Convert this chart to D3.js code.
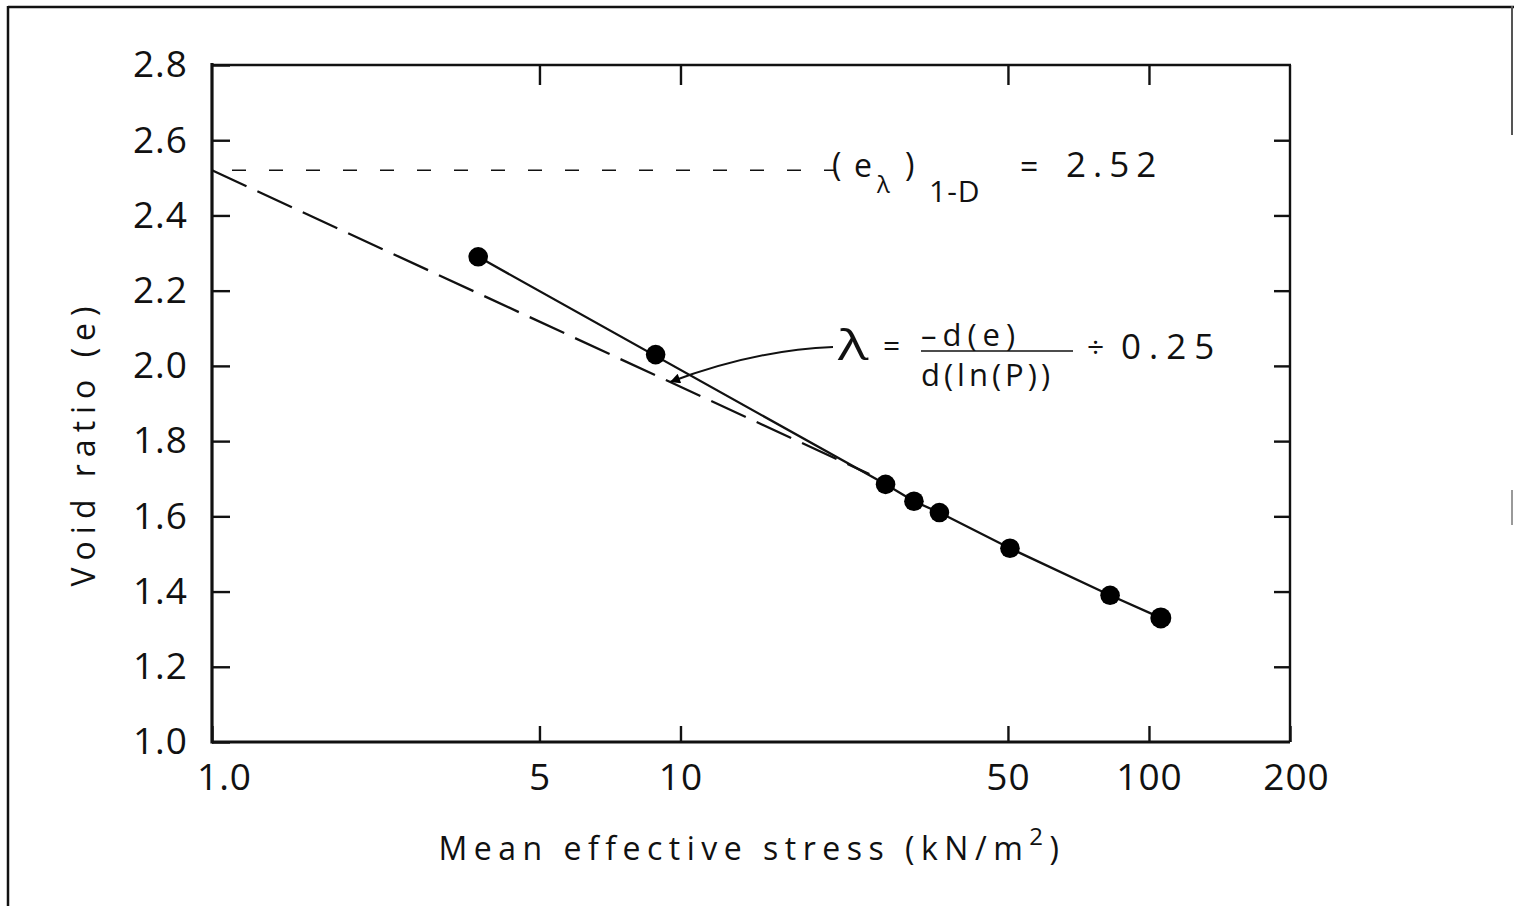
<!DOCTYPE html>
<html>
<head>
<meta charset="utf-8">
<script src="https://cdn.jsdelivr.net/npm/d3@7"></script>
<style>
  html, body { margin: 0; padding: 0; background: #fff; }
  svg { display: block; }
  text { font-family: "Open Sans", "DejaVu Sans", sans-serif; fill: #111; }
</style>
</head>
<body>
<svg id="chart" width="1514" height="906"></svg>
<script>
// Measured consolidation points: mean effective stress (kN/m2) and void ratio
const meanStress = [3.7, 8.85, 27.4, 31.5, 35.7, 50.5, 82.6, 106];
const voidRatio  = [2.29, 2.03, 1.685, 1.64, 1.61, 1.515, 1.39, 1.33];
// points joined by the drawn compression curve
const onCurve    = [true, false, true, true, true, true, true, true];

// 1-D normal consolidation line parameters
const eLambda = 2.52;
const lambda = 0.25;
const nclEndStress = 25.3;
const arrowStress = 9.5;

// Axis ticks
const xTickValues = [1, 5, 10, 50, 100, 200];
const xTickLabels = ["1.0", "5", "10", "50", "100", "200"];
const yTickValues = [1.0, 1.2, 1.4, 1.6, 1.8, 2.0, 2.2, 2.4, 2.6, 2.8];
const yTickLabels = ["1.0", "1.2", "1.4", "1.6", "1.8", "2.0", "2.2", "2.4", "2.6", "2.8"];

const svg = d3.select("#chart");
const plotLeft = 212, plotRight = 1290, plotTop = 65, plotBottom = 742;

const x = d3.scaleLog().domain([1, 200]).range([plotLeft, plotRight]);
const y = d3.scaleLinear().domain([1.0, 2.8]).range([plotBottom, plotTop]);

// Page frame
svg.append("line").attr("x1", 8).attr("x2", 1514).attr("y1", 7).attr("y2", 7)
  .attr("stroke", "#111").attr("stroke-width", 2.5);
svg.append("line").attr("x1", 8).attr("x2", 8).attr("y1", 6).attr("y2", 906)
  .attr("stroke", "#111").attr("stroke-width", 2.5);
svg.append("line").attr("x1", 1512).attr("x2", 1512).attr("y1", 6).attr("y2", 135)
  .attr("stroke", "#555").attr("stroke-width", 2);
svg.append("line").attr("x1", 1512).attr("x2", 1512).attr("y1", 490).attr("y2", 525)
  .attr("stroke", "#777").attr("stroke-width", 1.5);

// Axes
const xLabel = new Map(xTickValues.map((v, i) => [v, xTickLabels[i]]));
const yLabel = new Map(yTickValues.map((v, i) => [v, yTickLabels[i]]));

const gBottom = svg.append("g").attr("transform", `translate(0,${plotBottom})`)
  .call(d3.axisBottom(x).tickValues(xTickValues).tickFormat(d => xLabel.get(d))
    .tickSize(-16).tickSizeOuter(0).tickPadding(22));
gBottom.selectAll("text").filter(d => d === 1).attr("dx", 12);
gBottom.selectAll("text").filter(d => d === 200).attr("dx", 6);

const gTop = svg.append("g").attr("transform", `translate(0,${plotTop})`)
  .call(d3.axisTop(x).tickValues(xTickValues.slice(1, -1)).tickFormat("")
    .tickSize(-20).tickSizeOuter(0));

const gLeft = svg.append("g").attr("transform", `translate(${plotLeft},0)`)
  .call(d3.axisLeft(y).tickValues(yTickValues).tickFormat(d => yLabel.get(d))
    .tickSize(-18).tickSizeOuter(0).tickPadding(24));

const gRight = svg.append("g").attr("transform", `translate(${plotRight},0)`)
  .call(d3.axisRight(y).tickValues(yTickValues.slice(1, -1)).tickFormat("")
    .tickSize(-16).tickSizeOuter(0));

[gBottom, gTop, gLeft, gRight].forEach(g => {
  g.select(".domain").remove();
  g.selectAll(".tick line").attr("stroke", "#111").attr("stroke-width", 2.4);
  g.selectAll(".tick text").attr("font-size", 37).attr("fill", "#111")
    .attr("font-family", "'Open Sans', 'DejaVu Sans', sans-serif")
    .attr("letter-spacing", 1);
});

// Plot frame: heavier left and bottom axes
svg.append("line").attr("x1", plotLeft).attr("x2", plotLeft).attr("y1", plotTop - 2).attr("y2", plotBottom + 1.5)
  .attr("stroke", "#111").attr("stroke-width", 3.2);
svg.append("line").attr("x1", plotLeft).attr("x2", plotRight).attr("y1", plotBottom).attr("y2", plotBottom)
  .attr("stroke", "#111").attr("stroke-width", 3.2);
svg.append("line").attr("x1", plotLeft).attr("x2", plotRight + 1).attr("y1", plotTop).attr("y2", plotTop)
  .attr("stroke", "#111").attr("stroke-width", 2.4);
svg.append("line").attr("x1", plotRight).attr("x2", plotRight).attr("y1", plotTop).attr("y2", plotBottom)
  .attr("stroke", "#111").attr("stroke-width", 2.4);

// Axis titles
const xTitle = svg.append("text").attr("x", 752).attr("y", 860)
  .attr("text-anchor", "middle").attr("font-size", 32).attr("letter-spacing", 6.5);
xTitle.append("tspan").text("Mean effective stress (kN/m");
xTitle.append("tspan").attr("dy", -15).attr("font-size", 24).text("2");
xTitle.append("tspan").attr("dy", 15).text(")");

svg.append("text").attr("transform", "translate(95,443) rotate(-90)")
  .attr("text-anchor", "middle").attr("font-size", 32).attr("letter-spacing", 7)
  .text("Void ratio (e)");

// Horizontal reference at e = eLambda
svg.append("line")
  .attr("x1", x(1) + 20).attr("x2", 836)
  .attr("y1", y(eLambda)).attr("y2", y(eLambda))
  .attr("stroke", "#111").attr("stroke-width", 1.6)
  .attr("stroke-dasharray", "14,23");

// Normal consolidation line e = eLambda - lambda * ln(p)
const ncl = [1, nclEndStress].map(p => [x(p), y(eLambda - lambda * Math.log(p))]);
svg.append("path").attr("d", d3.line()(ncl))
  .attr("fill", "none").attr("stroke", "#111").attr("stroke-width", 2.3)
  .attr("stroke-dasharray", "38,12");

// Compression curve through the measured points
const pts = meanStress.map((p, i) => ({ p, e: voidRatio[i], on: onCurve[i] }));
svg.append("path")
  .attr("d", d3.line().x(d => x(d.p)).y(d => y(d.e))(pts.filter(d => d.on)))
  .attr("fill", "none").attr("stroke", "#111").attr("stroke-width", 2.3);

svg.selectAll("circle.pt").data(pts).join("circle")
  .attr("class", "pt")
  .attr("cx", d => x(d.p)).attr("cy", d => y(d.e))
  .attr("r", (d, i) => i === pts.length - 1 ? 10.5 : 9.8)
  .attr("fill", "#000");

// Annotation: (e_lambda)_1-D = 2.52
const ann = svg.append("g");
ann.append("text").attr("x", 832).attr("y", 176).attr("font-size", 32).text("(");
ann.append("text").attr("x", 854).attr("y", 177).attr("font-size", 32).text("e");
ann.append("text").attr("x", 877).attr("y", 193).attr("font-size", 24).text("λ");
ann.append("text").attr("x", 905).attr("y", 176).attr("font-size", 32).text(")");
ann.append("text").attr("x", 929).attr("y", 202).attr("font-size", 30)
  .attr("letter-spacing", 1).text("1-D");
ann.append("text").attr("x", 1020).attr("y", 178).attr("font-size", 32).text("=");
ann.append("text").attr("x", 1066).attr("y", 177).attr("font-size", 35)
  .attr("letter-spacing", 7).text(d3.format(".2f")(eLambda));

// Annotation: lambda = -d(e)/d(ln(P)) ÷ 0.25
ann.append("text").attr("transform", "translate(838,360) scale(1.35,1)")
  .attr("font-size", 42).text("λ");
ann.append("text").attr("x", 883).attr("y", 356).attr("font-size", 30).text("=");
ann.append("text").attr("x", 921).attr("y", 346).attr("font-size", 31)
  .attr("letter-spacing", 6).text("–d(e)");
ann.append("line").attr("x1", 921).attr("x2", 1073).attr("y1", 351).attr("y2", 351)
  .attr("stroke", "#111").attr("stroke-width", 1.6);
ann.append("text").attr("x", 921).attr("y", 386).attr("font-size", 31)
  .attr("letter-spacing", 4).text("d(ln(P))");
ann.append("text").attr("x", 1087).attr("y", 358).attr("font-size", 30).text("÷");
ann.append("text").attr("x", 1121).attr("y", 359).attr("font-size", 35)
  .attr("letter-spacing", 8).text(d3.format(".2f")(lambda));

// Leader arrow pointing at the normal consolidation line
svg.append("defs").append("marker")
  .attr("id", "head").attr("viewBox", "0 0 10 10")
  .attr("refX", 10).attr("refY", 5)
  .attr("markerWidth", 22).attr("markerHeight", 10)
  .attr("markerUnits", "userSpaceOnUse")
  .attr("orient", "auto")
  .append("path").attr("d", "M0,0 L10,5 L0,10 Z").attr("fill", "#000");

const tipX = x(arrowStress), tipY = y(eLambda - lambda * Math.log(arrowStress));
svg.append("path")
  .attr("d", `M833,347 Q755,350 ${tipX},${tipY}`)
  .attr("fill", "none").attr("stroke", "#111").attr("stroke-width", 2)
  .attr("marker-end", "url(#head)");
</script>
</body>
</html>
